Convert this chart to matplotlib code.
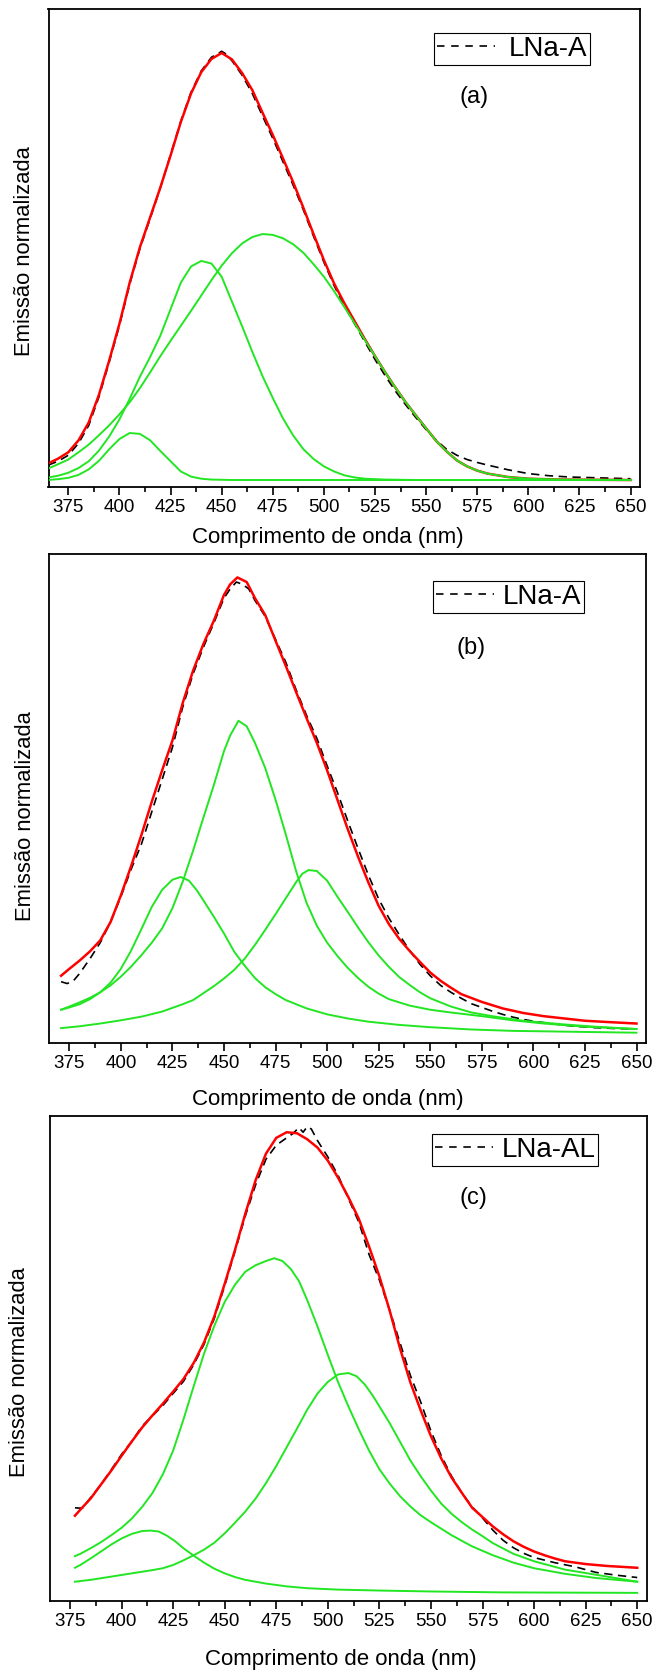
import matplotlib
matplotlib.use("Agg")
import matplotlib.pyplot as plt
from matplotlib.lines import Line2D
from matplotlib.ticker import MultipleLocator

plt.rcParams["font.family"] = ["Liberation Sans", "DejaVu Sans"]

# ---------------- panel (a) ----------------
a_data_x = [365.2, 370, 375, 380, 385, 390, 395, 400, 405, 410,
            415, 420, 425, 430, 435, 440, 445, 448, 450, 452,
            455, 460, 465, 470, 475, 480, 485, 490, 495, 500,
            505, 510, 515, 520, 525, 530, 535, 540, 545, 550,
            555, 560, 565, 570, 575, 580, 590, 600, 610, 620,
            635, 650]
a_data_y = [0.035, 0.044, 0.058, 0.086, 0.128, 0.195, 0.276, 0.362, 0.458, 0.542,
            0.612, 0.684, 0.762, 0.840, 0.908, 0.958, 0.990, 0.998, 1.004, 0.998,
            0.982, 0.948, 0.905, 0.852, 0.800, 0.745, 0.690, 0.632, 0.570, 0.510,
            0.455, 0.408, 0.366, 0.324, 0.282, 0.244, 0.208, 0.176, 0.146, 0.118,
            0.093, 0.072, 0.058, 0.048, 0.041, 0.035, 0.024, 0.015, 0.010, 0.007,
            0.005, 0.003]
a_x = [365.2, 370, 375, 380, 385, 390, 395, 400, 405, 410,
       415, 420, 425, 430, 435, 440, 445, 450, 455, 460,
       465, 470, 475, 480, 485, 490, 495, 500, 505, 510,
       515, 520, 525, 530, 535, 540, 545, 550, 555, 560,
       565, 570, 575, 580, 590, 600, 615, 630, 650]
a_fit_y = [0.039, 0.050, 0.065, 0.093, 0.135, 0.200, 0.280, 0.366, 0.462, 0.545,
           0.615, 0.685, 0.760, 0.838, 0.905, 0.955, 0.986, 1.000, 0.985, 0.953,
           0.913, 0.860, 0.808, 0.753, 0.697, 0.637, 0.575, 0.515, 0.460, 0.414,
           0.372, 0.330, 0.290, 0.252, 0.216, 0.182, 0.151, 0.121, 0.091, 0.067,
           0.046, 0.032, 0.022, 0.015, 0.007, 0.003, 0.001, 0.0005, 0.0]
a_p3_y = [0.027, 0.037, 0.048, 0.065, 0.083, 0.105, 0.128, 0.154, 0.182, 0.215,
          0.252, 0.290, 0.326, 0.361, 0.396, 0.432, 0.468, 0.502, 0.531, 0.554,
          0.569, 0.576, 0.574, 0.566, 0.552, 0.532, 0.505, 0.476, 0.442, 0.405,
          0.367, 0.328, 0.290, 0.252, 0.216, 0.182, 0.151, 0.121, 0.091, 0.067,
          0.046, 0.032, 0.022, 0.015, 0.007, 0.003, 0.001, 0.0005, 0.0]
a_p1_x = [365.2, 370, 375, 380, 385, 390, 395, 400, 405, 410,
          415, 420, 425, 430, 435, 440, 445, 455, 650]
a_p1_y = [0.0, 0.002, 0.005, 0.012, 0.025, 0.045, 0.072, 0.096, 0.110, 0.108,
          0.093, 0.068, 0.044, 0.020, 0.008, 0.003, 0.001, 0.0, 0.0]
a_p2_x = [365.2, 370, 375, 380, 385, 390, 395, 400, 405, 410,
          415, 420, 425, 430, 435, 440, 445, 450, 455,
          460, 465, 470, 475, 480, 485, 490, 495, 500, 505, 510, 515, 520,
          530, 545, 650]
a_p2_y = [0.006, 0.010, 0.017, 0.028, 0.044, 0.069, 0.102, 0.142, 0.190, 0.242,
          0.288, 0.338, 0.400, 0.462, 0.500, 0.513, 0.507, 0.476, 0.418,
          0.360, 0.300, 0.243, 0.192, 0.144, 0.104, 0.072, 0.049, 0.032, 0.020, 0.011, 0.006, 0.003,
          0.001, 0.0, 0.0]

# ---------------- panel (b) ----------------
b_data_x = [371, 374, 377, 380, 385, 390, 395, 400, 405, 410,
            415, 420, 425, 430, 435, 440, 445, 450, 453, 456,
            459, 462, 465, 470, 475, 480, 485, 490, 495, 500,
            505, 510, 515, 520, 525, 530, 535, 540, 545, 550,
            555, 560, 565, 570, 575, 580, 585, 590, 595, 600,
            610, 620, 630, 640, 650]
b_data_y = [0.120, 0.116, 0.122, 0.138, 0.170, 0.205, 0.250, 0.305, 0.365, 0.420,
            0.490, 0.560, 0.630, 0.718, 0.790, 0.848, 0.900, 0.955, 0.975, 0.990,
            0.985, 0.975, 0.950, 0.915, 0.865, 0.815, 0.755, 0.700, 0.650, 0.590,
            0.532, 0.470, 0.410, 0.352, 0.300, 0.258, 0.222, 0.188, 0.158, 0.133,
            0.112, 0.097, 0.084, 0.072, 0.064, 0.056, 0.049, 0.043, 0.038, 0.034,
            0.028, 0.023, 0.020, 0.018, 0.017]
b_fit_x = [371, 375, 380, 385, 390, 395, 400, 405, 410, 415,
           420, 425, 430, 435, 440, 445, 450, 453, 456.5, 461,
           465, 470, 475, 480, 485, 490, 495, 500, 505, 510,
           515, 520, 525, 530, 535, 540, 545, 550, 555, 560,
           565, 575, 585, 595, 605, 615, 625, 637, 650]
b_fit_y = [0.133, 0.148, 0.166, 0.186, 0.210, 0.250, 0.308, 0.372, 0.440, 0.512,
           0.580, 0.645, 0.727, 0.797, 0.855, 0.905, 0.962, 0.985, 1.000, 0.990,
           0.955, 0.918, 0.862, 0.807, 0.750, 0.694, 0.640, 0.580, 0.516, 0.452,
           0.392, 0.336, 0.285, 0.245, 0.213, 0.187, 0.163, 0.140, 0.122, 0.107,
           0.093, 0.076, 0.062, 0.052, 0.045, 0.040, 0.035, 0.032, 0.029]
b_p1_x = [371, 375, 380, 385, 390, 395, 400, 405, 410, 415,
          420, 425, 429, 433, 437, 441, 445, 450, 455, 460,
          465, 470, 475, 480, 490, 500, 510, 520, 535, 550,
          570, 590, 620, 650]
b_p1_y = [0.059, 0.064, 0.071, 0.082, 0.097, 0.118, 0.148, 0.188, 0.235, 0.283,
          0.320, 0.342, 0.348, 0.340, 0.318, 0.290, 0.262, 0.225, 0.185, 0.155,
          0.128, 0.108, 0.093, 0.080, 0.062, 0.049, 0.040, 0.033, 0.026, 0.021,
          0.016, 0.013, 0.011, 0.009]
b_p2_x = [371, 375, 380, 385, 390, 395, 400, 405, 410, 415,
          420, 425, 430, 435, 440, 445, 450, 453, 457, 461,
          465, 470, 475, 480, 485, 490, 495, 500, 505, 510,
          515, 520, 525, 530, 540, 550, 560, 575, 590, 605,
          625, 650]
b_p2_y = [0.059, 0.066, 0.075, 0.085, 0.097, 0.112, 0.131, 0.153, 0.178, 0.205,
          0.236, 0.280, 0.338, 0.405, 0.477, 0.547, 0.622, 0.656, 0.688, 0.676,
          0.640, 0.585, 0.516, 0.440, 0.360, 0.292, 0.242, 0.205, 0.176, 0.150,
          0.128, 0.109, 0.094, 0.082, 0.068, 0.059, 0.053, 0.045, 0.036, 0.029,
          0.022, 0.017]
b_p3_x = [371, 380, 390, 400, 410, 420, 430, 435, 440, 445,
          450, 455, 460, 465, 470, 475, 480, 485, 488, 491,
          495, 500, 505, 510, 515, 520, 525, 530, 535, 540,
          545, 550, 560, 570, 580, 595, 615, 630, 650]
b_p3_y = [0.019, 0.023, 0.029, 0.036, 0.044, 0.055, 0.071, 0.080, 0.095, 0.110,
          0.127, 0.146, 0.170, 0.200, 0.233, 0.267, 0.302, 0.337, 0.355, 0.363,
          0.361, 0.340, 0.305, 0.272, 0.238, 0.206, 0.177, 0.152, 0.130, 0.113,
          0.097, 0.084, 0.066, 0.053, 0.045, 0.035, 0.027, 0.022, 0.017]

# ---------------- panel (c) ----------------
c_data_x = [377.4, 381, 385, 390, 395, 400, 405, 410, 415, 420,
            425, 430, 435, 440, 445, 450, 455, 460, 465, 470,
            475, 480, 483, 486, 488, 490, 492, 495, 500, 505,
            510, 515, 520, 525, 530, 535, 540, 545, 550, 555,
            560, 565, 570, 575, 580, 585, 590, 595, 600, 610,
            620, 630, 640, 650]
c_data_y = [0.190, 0.189, 0.212, 0.240, 0.272, 0.305, 0.333, 0.366, 0.388, 0.410,
            0.436, 0.462, 0.498, 0.542, 0.598, 0.668, 0.742, 0.818, 0.885, 0.940,
            0.970, 0.986, 0.995, 1.008, 0.998, 1.010, 1.005, 0.980, 0.945, 0.905,
            0.855, 0.805, 0.735, 0.680, 0.615, 0.545, 0.475, 0.418, 0.355, 0.302,
            0.258, 0.222, 0.192, 0.168, 0.142, 0.120, 0.104, 0.092, 0.083, 0.072,
            0.063, 0.051, 0.045, 0.040]
c_fit_x = [377.4, 380, 385, 390, 395, 400, 405, 410, 415, 420,
           425, 430, 435, 440, 445, 450, 455, 460, 465, 470,
           475, 480, 485, 490, 495, 500, 505, 510, 515, 520,
           525, 530, 535, 540, 545, 550, 555, 560, 565, 570,
           575, 580, 585, 590, 595, 600, 605, 610, 615, 625,
           635, 650]
c_fit_y = [0.173, 0.186, 0.210, 0.240, 0.270, 0.302, 0.333, 0.363, 0.389, 0.414,
           0.440, 0.467, 0.502, 0.546, 0.602, 0.672, 0.745, 0.823, 0.895, 0.952,
           0.986, 0.998, 0.996, 0.983, 0.965, 0.937, 0.900, 0.858, 0.812, 0.752,
           0.688, 0.614, 0.533, 0.460, 0.400, 0.344, 0.296, 0.255, 0.222, 0.190,
           0.170, 0.150, 0.133, 0.118, 0.106, 0.096, 0.088, 0.081, 0.075, 0.069,
           0.065, 0.061]
c_p1_x = [377.4, 380, 385, 390, 395, 400, 405, 410, 414, 418,
          422, 426, 430, 435, 440, 445, 450, 455, 460, 470,
          480, 490, 505, 525, 550, 585, 650]
c_p1_y = [0.061, 0.067, 0.081, 0.096, 0.111, 0.124, 0.134, 0.140, 0.141, 0.139,
          0.130, 0.118, 0.103, 0.087, 0.072, 0.059, 0.049, 0.041, 0.035, 0.027,
          0.021, 0.017, 0.014, 0.012, 0.010, 0.008, 0.007]
c_p2_x = [377.4, 380, 385, 390, 395, 400, 405, 410, 415, 420,
          425, 430, 435, 440, 445, 450, 455, 460, 465, 470,
          474, 478, 482, 486, 490, 495, 500, 505, 510, 515,
          520, 525, 530, 535, 540, 545, 550, 560, 570, 580,
          590, 600, 615, 630, 650]
c_p2_y = [0.086, 0.091, 0.103, 0.116, 0.131, 0.147, 0.167, 0.192, 0.222, 0.262,
          0.313, 0.380, 0.452, 0.522, 0.582, 0.633, 0.670, 0.698, 0.712, 0.721,
          0.727, 0.721, 0.704, 0.678, 0.637, 0.580, 0.519, 0.460, 0.408, 0.359,
          0.313, 0.273, 0.242, 0.215, 0.193, 0.174, 0.159, 0.131, 0.107, 0.088,
          0.072, 0.060, 0.048, 0.039, 0.031]
c_p3_x = [377.4, 385, 395, 405, 415, 420, 425, 430, 435, 440,
          445, 450, 455, 460, 465, 470, 475, 480, 485, 490,
          495, 500, 505, 510, 514, 518, 522, 526, 530, 535,
          540, 545, 550, 555, 560, 565, 570, 575, 580, 590,
          600, 615, 630, 650]
c_p3_y = [0.031, 0.035, 0.042, 0.049, 0.056, 0.060, 0.067, 0.077, 0.088, 0.100,
          0.115, 0.135, 0.158, 0.182, 0.210, 0.243, 0.280, 0.320, 0.360, 0.401,
          0.436, 0.461, 0.477, 0.480, 0.473, 0.455, 0.430, 0.401, 0.372, 0.332,
          0.292, 0.258, 0.227, 0.199, 0.177, 0.159, 0.143, 0.129, 0.114, 0.091,
          0.075, 0.057, 0.046, 0.031]

sample_names = ["LNa-A", "LNa-A", "LNa-AL"]
panel_tags = ["(a)", "(b)", "(c)"]
tick_values = [375, 400, 425, 450, 475, 500, 525, 550, 575, 600, 625, 650]
x_title = "Comprimento de onda (nm)"
y_title = "Emissão normalizada"

RED = "#ff0000"
GREEN = "#22e622"

W, H = 653, 1672
fig = plt.figure(figsize=(W / 100, H / 100), dpi=100)

# axes boxes in pixels: (left, top, right, bottom)
boxes = [(48.5, 9, 640, 487), (49.3, 554, 646, 1043), (50, 1116, 646.7, 1601)]
ylims = [(-0.0164, 1.103), (-0.0134, 1.051), (-0.0105, 1.033)]
legend_anchor = [(0.6517, 0.9498), (0.643, 0.9448), (0.640, 0.9629)]
legend_pad = [0.5, 0.3, 0.3]
tag_pos = [(0.719, 0.816), (0.7067, 0.8078), (0.709, 0.8318)]
xlabel_px = [(328, 538), (328, 1099), (341, 1660)]
ylabel_px = [(25, 251), (26, 816), (20, 1372)]

series = [
    (a_data_x, a_data_y, a_x, a_fit_y,
     [(a_p1_x, a_p1_y), (a_p2_x, a_p2_y), (a_x, a_p3_y)]),
    (b_data_x, b_data_y, b_fit_x, b_fit_y,
     [(b_p1_x, b_p1_y), (b_p2_x, b_p2_y), (b_p3_x, b_p3_y)]),
    (c_data_x, c_data_y, c_fit_x, c_fit_y,
     [(c_p1_x, c_p1_y), (c_p2_x, c_p2_y), (c_p3_x, c_p3_y)]),
]

dash = (0, (5.0, 3.3))
legend_dash = (0, (4.5, 4.0))

for i, (dx, dy, fx, fy, peaks) in enumerate(series):
    l, t, r, b = boxes[i]
    ax = fig.add_axes([l / W, 1 - b / H, (r - l) / W, (b - t) / H])
    ax.plot(dx, dy, color="black", lw=1.2, linestyle=dash, zorder=2)
    ax.plot(fx, fy, color=RED, lw=1.8, zorder=3)
    for px, py in peaks:
        ax.plot(px, py, color=GREEN, lw=1.4, zorder=4)

    ax.set_xlim(365.3, 654.6)
    ax.set_ylim(*ylims[i])
    ax.set_yticks([])
    ax.set_xticks(tick_values)
    ax.xaxis.set_minor_locator(MultipleLocator(12.5))
    ax.tick_params(axis="x", which="major", direction="out", length=6, width=1.2,
                   labelsize=13.5, pad=3)
    ax.tick_params(axis="x", which="minor", direction="out", length=3.5, width=1.2)
    for s in ax.spines.values():
        s.set_linewidth(1.3)

    handle = Line2D([], [], color="black", lw=1.2, linestyle=legend_dash)
    leg = ax.legend([handle], [sample_names[i]], loc="upper left",
                    bbox_to_anchor=legend_anchor[i], borderaxespad=0, fontsize=20,
                    handlelength=2.1, handletextpad=legend_pad[i], borderpad=0.1,
                    frameon=True, fancybox=False, edgecolor="black", framealpha=1)
    leg.get_frame().set_linewidth(0.8)

    ax.text(*tag_pos[i], panel_tags[i], transform=ax.transAxes, fontsize=17,
            ha="center", va="center")

    fig.text(xlabel_px[i][0] / W, 1 - xlabel_px[i][1] / H, x_title, fontsize=16,
             ha="center", va="center")
    fig.text(ylabel_px[i][0] / W, 1 - ylabel_px[i][1] / H, y_title, fontsize=15.8,
             ha="center", va="center", rotation=90)

fig.savefig("out.png", dpi=100)
